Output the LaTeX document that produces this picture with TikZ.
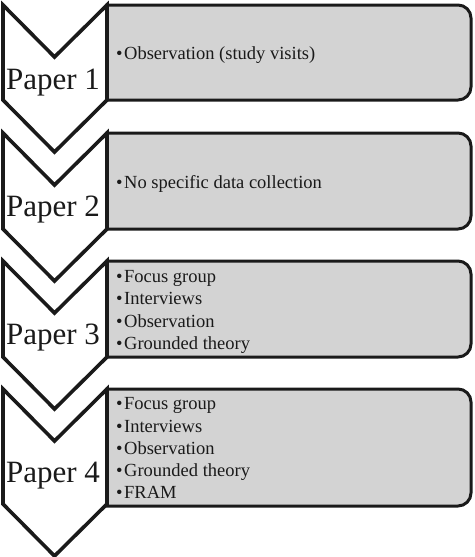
\documentclass[tikz,border=0pt]{standalone}
\usepackage{fontspec}
\setmainfont{Liberation Serif}
\definecolor{boxgray}{HTML}{D3D3D3}
\definecolor{ink}{HTML}{1A1A1A}
\tikzset{
  chev/.style={draw=ink, fill=white, line width=3.6pt, miter limit=10},
  infobox/.style={draw=ink, fill=boxgray, line width=3pt},
  paperlbl/.style={anchor=base, inner sep=0pt, font=\fontsize{31}{31}\selectfont, text=ink},
  item/.style={anchor=base west, inner sep=0pt, font=\fontsize{18.5}{18.5}\selectfont, text=ink}
}
\newcommand{\itm}[1]{\textbullet\kern1.5pt #1}
\begin{document}
\begin{tikzpicture}[x=1pt,y=-1pt]
\useasboundingbox (0,0) rectangle (474,557);
% boxes: left edge square, right corners rounded
\foreach \t/\b in {5/100, 133/229, 261/357, 389/506}{
  \draw[infobox] (107,\b) -- (107,\t) [rounded corners=13pt] -- (471,\t) -- (471,\b) [sharp corners] -- cycle;
}
% chevrons
\foreach \t/\b in {5/100, 133/229, 261/357, 389/504}{
  \draw[chev] (3,\t) -- (54.5,\t+52) -- (107,\t) -- (107,\b) -- (54.5,\b+52) -- (3,\b) -- cycle;
}
% labels
\node[paperlbl] (p1) at (53,89) {Paper 1};
\node[paperlbl] (p2) at (53,216) {Paper 2};
\node[paperlbl] (p3) at (53,344) {Paper 3};
\node[paperlbl] (p4) at (53,482) {Paper 4};
% items
\node[item] (a1) at (116,59) {\itm{Observation (study visits)}};
\node[item] (b1) at (116,188) {\itm{No specific data collection}};
\node[item] (c1) at (116,282) {\itm{Focus group}};
\node[item] (c2) at (116,304) {\itm{Interviews}};
\node[item] (c3) at (116,327) {\itm{Observation}};
\node[item] (c4) at (116,349) {\itm{Grounded theory}};
\node[item] (d1) at (116,409) {\itm{Focus group}};
\node[item] (d2) at (116,432) {\itm{Interviews}};
\node[item] (d3) at (116,454) {\itm{Observation}};
\node[item] (d4) at (116,476) {\itm{Grounded theory}};
\node[item] (d5) at (116,498) {\itm{FRAM}};
\end{tikzpicture}
\end{document}
